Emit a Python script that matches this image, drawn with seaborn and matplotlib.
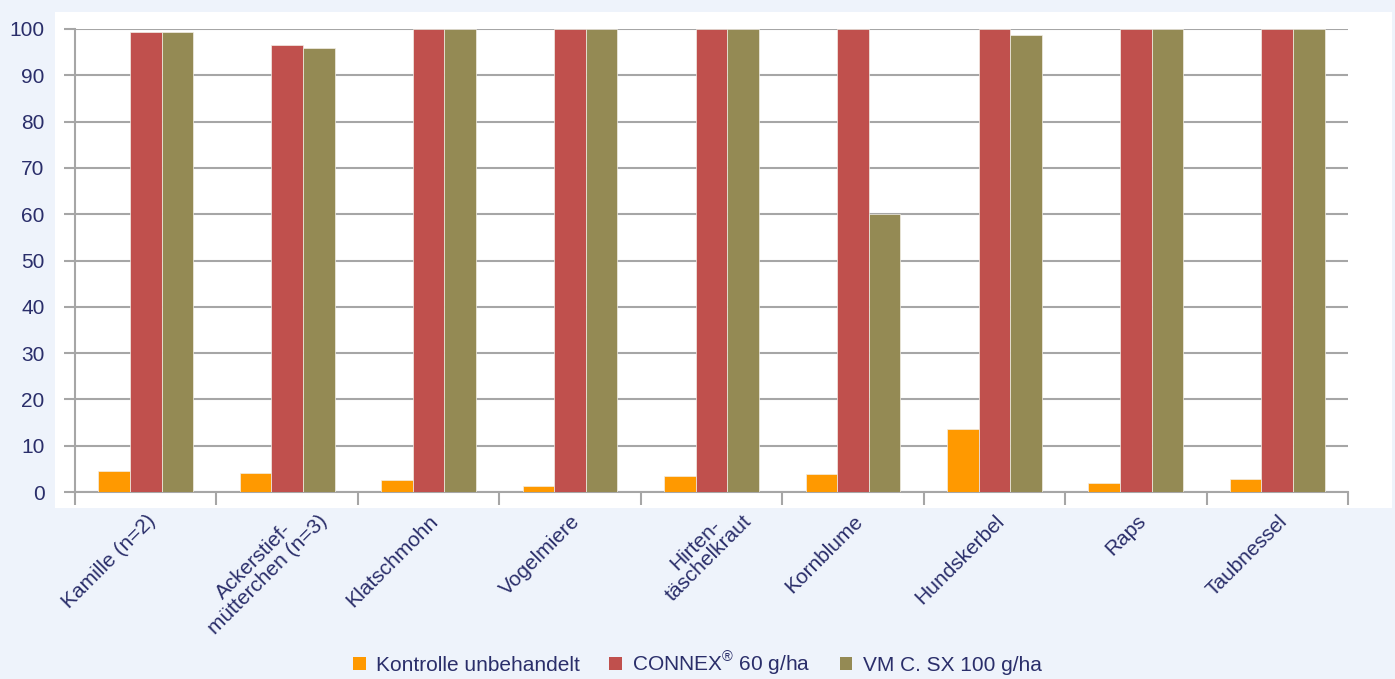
import matplotlib
matplotlib.use("Agg")
import matplotlib.pyplot as plt
import matplotlib.transforms as mtransforms
from matplotlib.patches import Rectangle
import seaborn as sns
import pandas as pd

categories = ["Kamille (n=2)", "Ackerstief-\nmütterchen (n=3)", "Klatschmohn", "Vogelmiere",
              "Hirten-\ntäschelkraut", "Kornblume", "Hundskerbel", "Raps", "Taubnessel"]
series = ["Kontrolle unbehandelt", r"CONNEX$^{\circledR}$ 60 g/ha", "VM C. SX 100 g/ha"]
kontrolle = [4.5, 4.1, 2.6, 1.3, 3.5, 3.9, 13.6, 1.9, 2.8]
connex = [99.4, 96.5, 100, 100, 100, 100, 100, 100, 100]
vm = [99.4, 95.9, 100, 100, 100, 60.0, 98.7, 100, 100]
colors = ["#FF9900", "#C0504D", "#948A54"]

rows = []
for vals, s in zip([kontrolle, connex, vm], series):
    for c, v in zip(categories, vals):
        rows.append({"Art": c, "Serie": s, "Wert": v})
df = pd.DataFrame(rows)

text_col = "#2A2E6A"
grid_col = "#A6A6A6"
fs = 15

sns.set_theme(style="white")
plt.rcParams["font.family"] = ["Liberation Sans", "DejaVu Sans"]
plt.rcParams["mathtext.fontset"] = "custom"
plt.rcParams["mathtext.rm"] = "Liberation Sans"

fig = plt.figure(figsize=(13.95, 6.79), dpi=100)
fig.patch.set_facecolor("#EEF3FB")
# white plot panel behind the axes
fig.patches.append(Rectangle((55 / 1395, 1 - 508 / 679), (1392 - 55) / 1395, (508 - 12) / 679,
                             transform=fig.transFigure, facecolor="white", edgecolor="none", zorder=-5))

ax = fig.add_axes([75 / 1395, 1 - 492 / 679, (1348 - 75) / 1395, (492 - 29) / 679])
ax.set_facecolor("none")
ax.set_zorder(2)

sns.barplot(data=df, x="Art", y="Wert", hue="Serie", palette=colors, width=0.67,
            saturation=1, ax=ax, legend=False, zorder=3, edgecolor="#F2EEE6", linewidth=0.5)

ax.set_ylim(0, 100)
ax.set_xlim(-0.5, len(categories) - 0.5)
ax.set_yticks(range(0, 101, 10))
ax.yaxis.grid(True, color=grid_col, linewidth=1.5, zorder=0)
ax.set_axisbelow(True)
ax.set_xlabel("")
ax.set_ylabel("")

for side in ["top", "right"]:
    ax.spines[side].set_visible(False)
for side in ["left", "bottom"]:
    ax.spines[side].set_color(grid_col)
    ax.spines[side].set_linewidth(1.5)

ax.tick_params(axis="y", which="major", length=8, width=1.5, color=grid_col,
               labelsize=fs, labelcolor=text_col, pad=14, left=True)
ax.set_xticks(range(len(categories)))
ax.set_xticklabels(categories, rotation=45, ha="right", rotation_mode="anchor",
                   multialignment="center", fontsize=fs, color=text_col, linespacing=1.0)
ax.tick_params(axis="x", which="major", length=0, pad=14)
ax.set_xticks([i - 0.5 for i in range(len(categories) + 1)], minor=True)
ax.tick_params(axis="x", which="minor", length=9, width=1.5, color=grid_col, bottom=True)

# two-line labels sit further up-right in the original
shift = mtransforms.ScaledTranslation(0.17, 0.13, fig.dpi_scale_trans)
for lab in ax.get_xticklabels():
    if "\n" in lab.get_text():
        lab.set_transform(lab.get_transform() + shift)

handles = [Rectangle((0, 0), 1, 1, facecolor=c, edgecolor="none") for c in colors]
fig.legend(handles, series, loc="lower center", bbox_to_anchor=(0.5, -0.025), ncol=3,
           frameon=False, fontsize=fs, labelcolor=text_col, handlelength=0.6,
           handleheight=0.6, handletextpad=0.5, columnspacing=1.4)

fig.savefig("out.png", dpi=100, facecolor=fig.get_facecolor())
